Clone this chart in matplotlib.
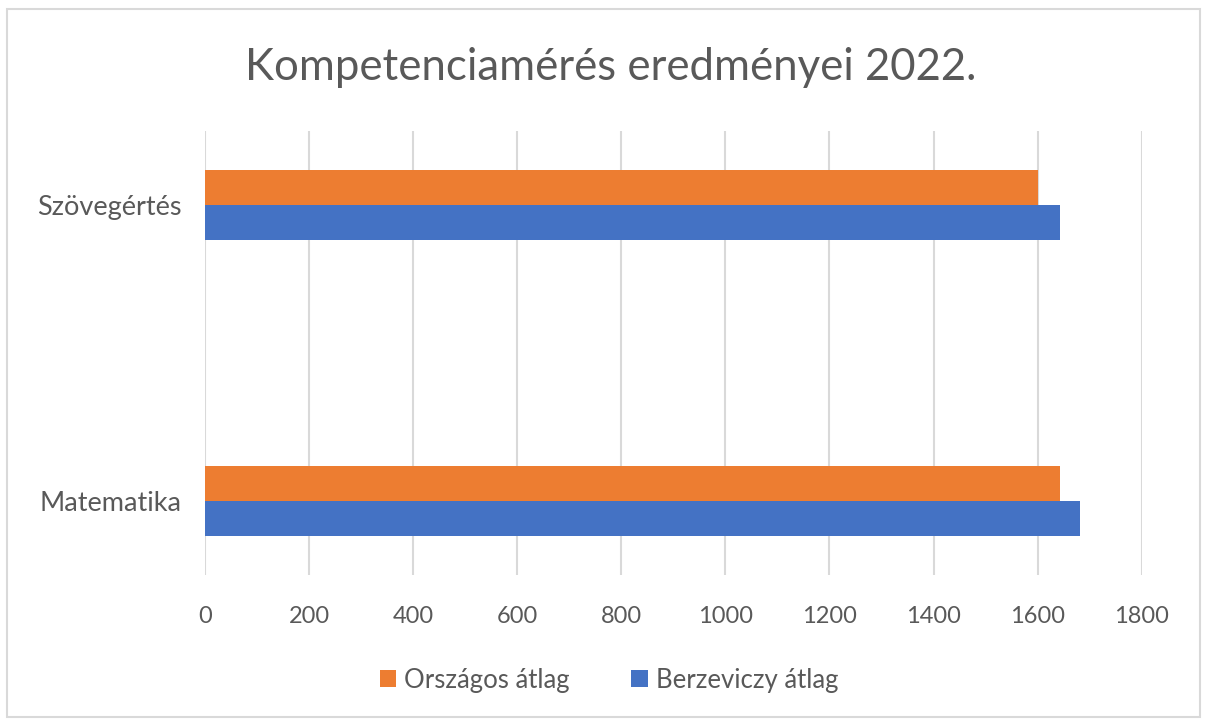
# Kompetenciamérés eredményei 2022. - vízszintes oszlopdiagram

import matplotlib.pyplot as plt
import numpy as np
from matplotlib.patches import Rectangle

plt.rcParams['font.family'] = ['Lato', 'DejaVu Sans']

# Adatok (leolvasva)
kategoriak = ['Matematika', 'Szövegértés']
orszagos = [1643, 1601]
berzeviczy = [1681, 1643]
sorozatok = ['Országos átlag', 'Berzeviczy átlag']
x_ticks = list(range(0, 2000, 200))

narancs = '#ED7D31'
kek = '#4472C4'
szurke = '#595959'

fig = plt.figure(figsize=(12.06, 7.22), dpi=100)
ax = fig.add_axes([0.170, 0.2036, 0.7767, 0.615])

y = np.arange(len(kategoriak))
h = 0.118
ax.barh(y + h / 2, orszagos, height=h, color=narancs, label=sorozatok[0], zorder=3)
ax.barh(y - h / 2, berzeviczy, height=h, color=kek, label=sorozatok[1], zorder=3)

ax.set_xlim(0, 1800)
ax.set_ylim(-0.25, 1.25)
ax.set_xticks(x_ticks)
ax.set_yticks(y)
ax.set_yticklabels(kategoriak)
ax.xaxis.grid(True, color='#D9D9D9', linewidth=1.5, zorder=0)
for s in ax.spines.values():
    s.set_visible(False)
ax.tick_params(length=0, labelsize=17, colors=szurke)
ax.tick_params(axis='x', pad=22)
ax.tick_params(axis='y', labelsize=19.5, pad=17)

fig.suptitle('Kompetenciamérés eredményei 2022.', x=0.506, y=0.935,
             fontsize=31.5, color=szurke)

kezelok, cimkek = ax.get_legend_handles_labels()
fig.legend(kezelok, cimkek, loc='center', bbox_to_anchor=(0.505, 0.058), ncol=2,
           frameon=False, fontsize=18.5, labelcolor=szurke, handlelength=0.65,
           handleheight=0.65, handletextpad=0.3, columnspacing=2.4)

# Diagram keret
fig.patches.append(Rectangle((7 / 1206, 5 / 722), 1193 / 1206, 708 / 722,
                             transform=fig.transFigure, fill=False,
                             edgecolor='#D9D9D9', linewidth=1.5))

fig.savefig('out.png', dpi=100)
